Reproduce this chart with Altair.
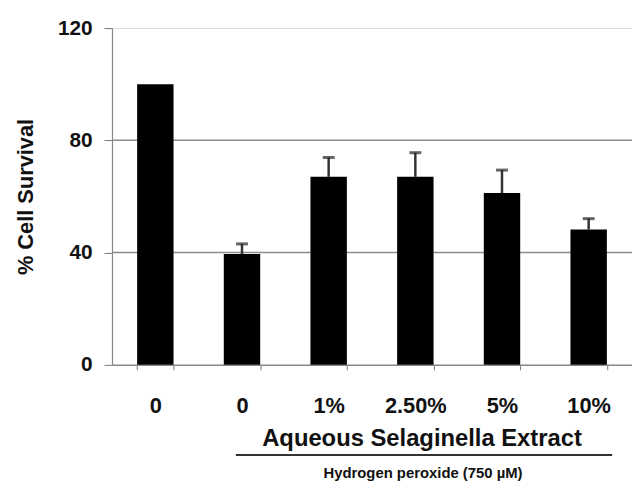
import altair as alt
import pandas as pd

# ---- data ----
categories = ["Control", "H2O2", "1%", "2.50%", "5%", "10%"]
tick_labels = ["0", "0", "1%", "2.50%", "5%", "10%"]
survival = [100, 39.5, 67, 67, 61.2, 48.2]
error = [0, 3.6, 6.9, 8.6, 8.2, 3.9]
grid_values = [40, 80]
y_ticks = [0, 40, 80, 120]

x_title = "Aqueous Selaginella Extract"
sub_title = "Hydrogen peroxide (750 \u00b5M)"
y_title = "% Cell Survival"

df = pd.DataFrame({
    "cat": categories,
    "label": tick_labels,
    "value": survival,
    "err": error,
})
df["upper"] = df["value"] + df["err"]
err_df = df[df["err"] > 0]
grid_df = pd.DataFrame({"g": grid_values})

FONT = "Liberation Sans"
label_map = "{" + ",".join(f"'{c}':'{l}'" for c, l in zip(categories, tick_labels)) + "}"

x_enc = alt.X(
    "cat:N",
    sort=categories,
    scale=alt.Scale(paddingInner=0.58, paddingOuter=0.29),
    axis=alt.Axis(
        title=None,
        labelExpr=f"{label_map}[datum.value]",
        labelAngle=0,
        labelFont=FONT,
        labelFontSize=22,
        labelFontWeight="bold",
        labelColor="#111111",
        labelPadding=26,
        tickBand="extent",
        tickSize=5,
        tickColor="#777777",
        domainColor="#888888",
        domainWidth=1.5,
        grid=False,
    ),
)

y_scale = alt.Scale(domain=[0, 120], nice=False)
y_axis = alt.Axis(
    title=y_title,
    values=y_ticks,
    titleFont=FONT,
    titleFontSize=22,
    titleFontWeight="bold",
    titleColor="#111111",
    titlePadding=20,
    labelFont=FONT,
    labelFontSize=21,
    labelFontWeight="bold",
    labelColor="#111111",
    labelPadding=12,
    tickSize=8,
    tickColor="#777777",
    domainColor="#888888",
    domainWidth=1.2,
    grid=False,
)

grid = alt.Chart(grid_df).mark_rule(color="#8c8c8c", strokeWidth=1.5).encode(
    y=alt.Y("g:Q", scale=y_scale, axis=y_axis),
    x=alt.value(0),
    x2=alt.value(525),
)

bars = alt.Chart(df).mark_bar(color="#000000").encode(
    x=x_enc,
    y=alt.Y("value:Q", scale=y_scale, axis=y_axis),
)

err_rule = alt.Chart(err_df).mark_rule(color="#333333", strokeWidth=2.5).encode(
    x=alt.X("cat:N", sort=categories),
    y=alt.Y("value:Q", scale=y_scale),
    y2="upper:Q",
)

err_cap = alt.Chart(err_df).mark_tick(color="#222222", size=12, thickness=3).encode(
    x=alt.X("cat:N", sort=categories),
    y=alt.Y("upper:Q", scale=y_scale),
)

title_text = alt.Chart(pd.DataFrame({"t": [x_title]})).mark_text(
    font=FONT, fontSize=24, fontWeight="bold", color="#111111",
    align="center", baseline="alphabetic",
).encode(text="t:N", x=alt.value(313), y=alt.value(422))

bracket = alt.Chart(pd.DataFrame({"t": [x_title]})).mark_rule(
    color="#333333", strokeWidth=2
).encode(x=alt.value(125), x2=alt.value(505), y=alt.value(431))

sub_text = alt.Chart(pd.DataFrame({"t": [sub_title]})).mark_text(
    font=FONT, fontSize=15, fontWeight="bold", color="#111111",
    align="center", baseline="alphabetic",
).encode(text="t:N", x=alt.value(314), y=alt.value(454))

chart = alt.layer(grid, bars, err_rule, err_cap, title_text, bracket, sub_text).properties(
    width=525,
    height=340,
    autosize=alt.AutoSizeParams(type="none"),
    padding={"left": 105, "top": 18, "right": 0, "bottom": 118},
).configure_view(stroke=None).configure(background="#ffffff")

chart.save("out.html", embed_options={"renderer": "svg", "actions": False})
